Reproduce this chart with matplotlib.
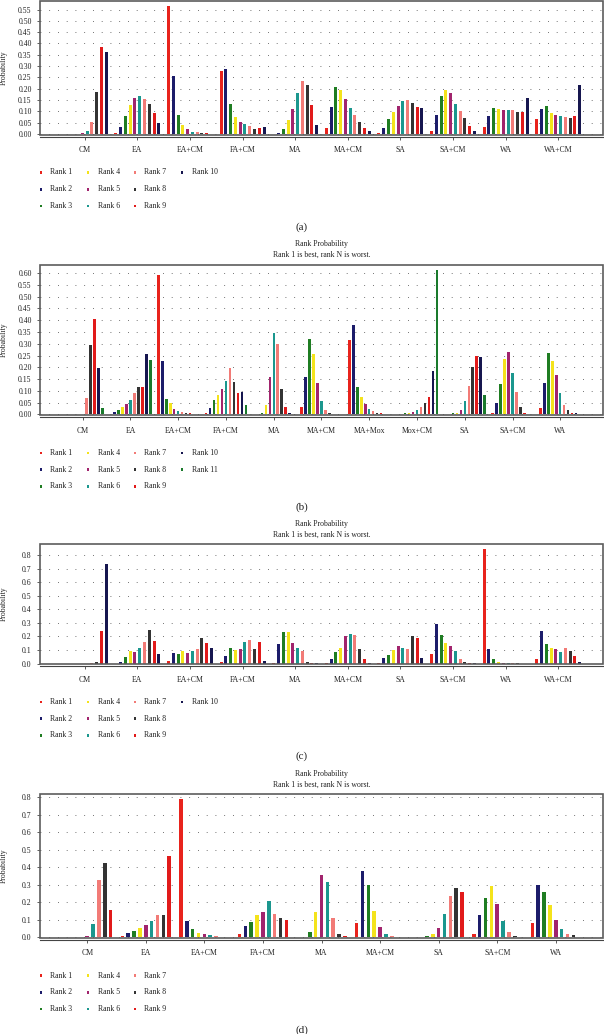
import matplotlib
matplotlib.use("Agg")
import matplotlib.pyplot as plt
from matplotlib.patches import Rectangle
import numpy as np

plt.rcParams['font.family'] = ['Liberation Serif', 'DejaVu Serif']

# colours of the rank series, Rank 1 .. Rank 11
rank_colors = ['#e8231c', '#1c1c6a', '#1f7d22', '#f4e31b', '#a1246d', '#1b978e',
               '#f27b77', '#333333', '#e11a1a', '#16164f', '#1a7a2c']
rank_labels = ['Rank %d' % i for i in range(1, 12)]

# panel (a): rows = treatments, columns = rank 1..10
treat_a = ['CM', 'EA', 'EA+CM', 'FA+CM', 'MA', 'MA+CM', 'SA', 'SA+CM', 'WA', 'WA+CM']
prob_a = [
    [0.0, 0.0, 0.0, 0.0, 0.003, 0.013, 0.055, 0.185, 0.383, 0.361],
    [0.005, 0.030, 0.078, 0.130, 0.158, 0.168, 0.153, 0.132, 0.092, 0.048],
    [0.565, 0.258, 0.083, 0.038, 0.020, 0.010, 0.008, 0.004, 0.003, 0.002],
    [0.280, 0.288, 0.132, 0.077, 0.055, 0.043, 0.035, 0.024, 0.026, 0.033],
    [0.0, 0.003, 0.020, 0.060, 0.110, 0.183, 0.236, 0.215, 0.128, 0.038],
    [0.028, 0.118, 0.208, 0.195, 0.155, 0.113, 0.082, 0.053, 0.028, 0.013],
    [0.005, 0.027, 0.068, 0.097, 0.125, 0.147, 0.151, 0.137, 0.120, 0.115],
    [0.012, 0.083, 0.167, 0.195, 0.182, 0.134, 0.100, 0.069, 0.035, 0.015],
    [0.030, 0.080, 0.115, 0.110, 0.105, 0.105, 0.105, 0.098, 0.097, 0.158],
    [0.066, 0.112, 0.122, 0.092, 0.083, 0.078, 0.075, 0.071, 0.081, 0.215],
]

# panel (b): rank 1..11
treat_b = ['CM', 'EA', 'EA+CM', 'FA+CM', 'MA', 'MA+CM', 'MA+Mox', 'Mox+CM', 'SA', 'SA+CM', 'WA']
prob_b = [
    [0.0, 0.0, 0.0, 0.0, 0.002, 0.003, 0.068, 0.295, 0.405, 0.195, 0.027],
    [0.002, 0.012, 0.020, 0.030, 0.045, 0.063, 0.092, 0.118, 0.118, 0.255, 0.232],
    [0.592, 0.225, 0.067, 0.047, 0.025, 0.015, 0.010, 0.005, 0.004, 0.003, 0.003],
    [0.008, 0.027, 0.060, 0.082, 0.110, 0.140, 0.197, 0.137, 0.092, 0.095, 0.038],
    [0.0, 0.0, 0.005, 0.038, 0.160, 0.345, 0.300, 0.108, 0.030, 0.005, 0.001],
    [0.030, 0.160, 0.322, 0.255, 0.132, 0.057, 0.020, 0.006, 0.003, 0.001, 0.001],
    [0.317, 0.380, 0.117, 0.075, 0.045, 0.025, 0.013, 0.007, 0.004, 0.003, 0.002],
    [0.001, 0.002, 0.004, 0.005, 0.010, 0.017, 0.030, 0.050, 0.073, 0.185, 0.612],
    [0.0, 0.001, 0.005, 0.005, 0.020, 0.057, 0.122, 0.200, 0.250, 0.245, 0.082],
    [0.008, 0.050, 0.130, 0.237, 0.265, 0.175, 0.097, 0.030, 0.008, 0.003, 0.002],
    [0.027, 0.135, 0.260, 0.228, 0.168, 0.092, 0.040, 0.018, 0.008, 0.006, 0.003],
]

# panel (c): rank 1..10
treat_c = ['CM', 'EA', 'EA+CM', 'FA+CM', 'MA', 'MA+CM', 'SA', 'SA+CM', 'WA', 'WA+CM']
prob_c = [
    [0.0, 0.0, 0.0, 0.0, 0.0, 0.0, 0.002, 0.015, 0.240, 0.733],
    [0.0, 0.008, 0.050, 0.090, 0.085, 0.113, 0.160, 0.250, 0.163, 0.068],
    [0.017, 0.078, 0.070, 0.092, 0.080, 0.092, 0.105, 0.188, 0.150, 0.115],
    [0.008, 0.052, 0.112, 0.098, 0.105, 0.158, 0.173, 0.108, 0.158, 0.022],
    [0.002, 0.143, 0.235, 0.232, 0.153, 0.113, 0.090, 0.015, 0.005, 0.002],
    [0.003, 0.032, 0.083, 0.113, 0.205, 0.218, 0.210, 0.105, 0.032, 0.002],
    [0.005, 0.038, 0.060, 0.097, 0.128, 0.112, 0.108, 0.202, 0.192, 0.040],
    [0.068, 0.295, 0.212, 0.153, 0.128, 0.095, 0.030, 0.008, 0.003, 0.002],
    [0.848, 0.105, 0.030, 0.008, 0.004, 0.002, 0.001, 0.001, 0.0, 0.0],
    [0.037, 0.238, 0.142, 0.113, 0.105, 0.083, 0.115, 0.092, 0.052, 0.015],
]

# panel (d): rank 1..9
treat_d = ['CM', 'EA', 'EA+CM', 'FA+CM', 'MA', 'MA+CM', 'SA', 'SA+CM', 'WA']
prob_d = [
    [0.0, 0.0, 0.0, 0.0, 0.005, 0.074, 0.328, 0.425, 0.156],
    [0.005, 0.023, 0.035, 0.049, 0.066, 0.090, 0.125, 0.123, 0.462],
    [0.788, 0.090, 0.043, 0.023, 0.016, 0.010, 0.006, 0.002, 0.002],
    [0.016, 0.060, 0.084, 0.123, 0.144, 0.205, 0.133, 0.111, 0.100],
    [0.001, 0.002, 0.031, 0.144, 0.355, 0.316, 0.109, 0.018, 0.003],
    [0.078, 0.377, 0.295, 0.146, 0.059, 0.018, 0.006, 0.002, 0.001],
    [0.001, 0.002, 0.008, 0.018, 0.053, 0.129, 0.232, 0.283, 0.260],
    [0.016, 0.127, 0.226, 0.291, 0.187, 0.090, 0.029, 0.006, 0.002],
    [0.078, 0.297, 0.256, 0.185, 0.096, 0.043, 0.016, 0.010, 0.002],
]

yticks_ab = np.round(np.arange(0, 0.601, 0.05), 2)
yticks_cd = np.round(np.arange(0, 0.801, 0.1), 1)

W, H = 604, 1034
fig = plt.figure(figsize=(W / 100, H / 100), dpi=100)
FS = 5.6


def fx(x):
    return x / W


def fy(y):
    return 1 - y / H


def draw_panel(top, bottom, treatments, probs, letter, yticks, fmt, title=True):
    probs = np.array(probs)
    n_t, n_r = probs.shape
    period = n_r + 1
    ax = fig.add_axes([fx(40), fy(bottom), (603 - 40) / W, (bottom - top) / H])

    # R style barplot(beside=TRUE): one unit per bar, one unit gap per group
    for r in range(n_r):
        xs = 1 + np.arange(n_t) * period + r + 0.5
        ax.bar(xs, probs[:, r], width=0.62, color=rank_colors[r], linewidth=0, zorder=3)

    centers = 1 + np.arange(n_t) * period + n_r / 2
    lo, hi = 1, n_t * period
    ext = 0.04 * (hi - lo)
    ax.set_xlim(lo - ext, hi + ext)
    m = probs.max()
    ax.set_ylim(-0.004 * m, 1.04 * m)

    ax.set_xticks(centers)
    ax.set_xticklabels(treatments)
    ax.set_yticks(yticks)
    ax.set_yticklabels([fmt % v for v in yticks])

    for s in ['top', 'right', 'left']:
        ax.spines[s].set_visible(False)
    ax.spines['bottom'].set_position(('outward', 1.5))
    ax.spines['bottom'].set_color('#444444')
    ax.spines['bottom'].set_linewidth(0.8)
    ax.add_patch(Rectangle((0, 0), 1, 1, transform=ax.transAxes, fill=False,
                           ec='#5c5c5c', lw=1.2, clip_on=False, zorder=5))

    ax.tick_params(axis='both', direction='out', length=2.5, width=0.6,
                   color='#444444', labelsize=FS, labelcolor='#222222')
    ax.tick_params(axis='x', pad=4.5)
    ax.tick_params(axis='y', pad=3.5)
    ax.set_axisbelow(True)
    ax.yaxis.grid(True, linestyle=(0, (1, 9.5)), color='#444444', linewidth=0.6)

    ax.set_ylabel('Probability', fontsize=FS, color='#222222')
    ax.yaxis.set_label_coords(-0.058, 0.5)

    if title:
        fig.text(fx(321.5), fy(top - 20), 'Rank Probability', ha='center', va='center',
                 fontsize=FS, color='#222222')
        fig.text(fx(321.5), fy(top - 9.5), 'Rank 1 is best, rank N is worst.',
                 ha='center', va='center', fontsize=FS, color='#222222')

    # legend: three rows, filled column by column
    for i in range(n_r):
        col, row = i // 3, i % 3
        x0 = 41 + col * 47
        y0 = bottom + 38 + row * 16.7
        fig.add_artist(Rectangle((fx(x0 - 1.3), fy(y0 + 1.3)), 2.6 / W, 2.6 / H,
                                 transform=fig.transFigure, color=rank_colors[i], lw=0))
        fig.text(fx(x0 + 9.5), fy(y0), rank_labels[i], ha='left', va='center',
                 fontsize=FS, color='#222222')

    fig.text(fx(302), fy(bottom + 92.5), '(%s)' % letter, ha='center', va='center',
             fontsize=8, color='#222222')
    return ax


draw_panel(1, 134.5, treat_a, prob_a, 'a', yticks_ab[:12], '%.2f', title=False)
draw_panel(264.5, 415, treat_b, prob_b, 'b', yticks_ab, '%.2f')
draw_panel(544, 664, treat_c, prob_c, 'c', yticks_cd, '%.1f')
draw_panel(794, 937.5, treat_d, prob_d, 'd', yticks_cd, '%.1f')

fig.savefig('out.png', dpi=100)
